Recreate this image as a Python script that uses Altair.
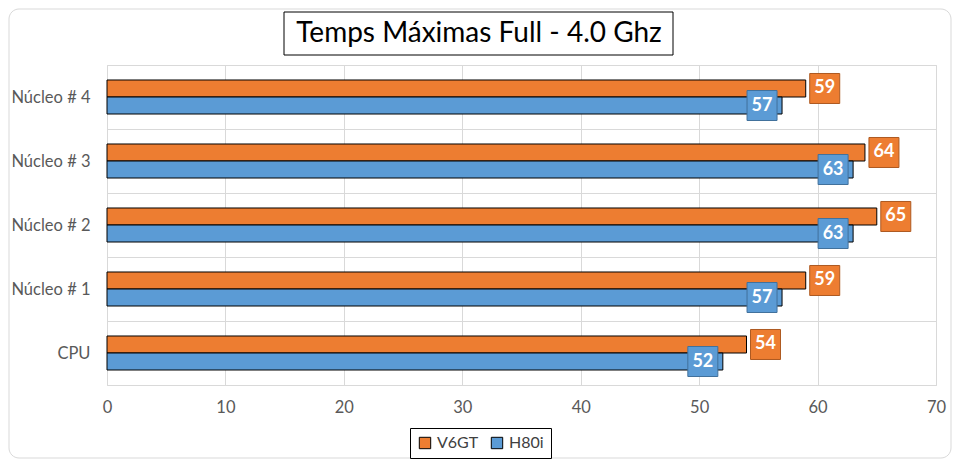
import altair as alt
import pandas as pd

categories = ["Núcleo # 4", "Núcleo # 3", "Núcleo # 2", "Núcleo # 1", "CPU"]
series = ["V6GT", "H80i"]
v6gt = [59, 64, 65, 59, 54]
h80i = [57, 63, 63, 57, 52]
title_text = "Temps Máximas Full - 4.0 Ghz"

rows = []
for c, a, b in zip(categories, v6gt, h80i):
    rows.append({"cat": c, "serie": "V6GT", "val": a})
    rows.append({"cat": c, "serie": "H80i", "val": b})
df = pd.DataFrame(rows)

FONT = "Lato"
fills = ["#ED7D31", "#5B9BD5"]
strokes = ["#AE5A21", "#41719C"]

y_enc = alt.Y("cat:N", sort=categories, title=None,
              scale=alt.Scale(paddingInner=0, paddingOuter=0),
              axis=alt.Axis(tickBand="extent", grid=True, ticks=False, domain=False,
                            labelFontSize=16.5, labelColor="#595959", labelFont=FONT,
                            labelPadding=17, gridColor="#D9D9D9"))
yoff_enc = alt.YOffset("serie:N", sort=series,
                       scale=alt.Scale(paddingInner=0, paddingOuter=0.882))
x_enc = alt.X("val:Q", title=None,
              scale=alt.Scale(domain=[0, 70], nice=False),
              axis=alt.Axis(values=[0, 10, 20, 30, 40, 50, 60, 70], grid=True, ticks=False,
                            domain=False, labelFontSize=16.5, labelColor="#595959",
                            labelFont=FONT, labelPadding=14, gridColor="#D9D9D9",
                            labelFlush=False))

base = alt.Chart(df)

bars = base.mark_bar(stroke="black", strokeWidth=1).encode(
    x=x_enc, y=y_enc, yOffset=yoff_enc,
    color=alt.Color("serie:N", sort=series,
                    scale=alt.Scale(domain=series, range=fills),
                    legend=alt.Legend(title=None, orient="none", legendX=303, legendY=363,
                                      direction="horizontal", strokeColor="black",
                                      fillColor="white", padding=7, symbolType="square",
                                      symbolSize=130, labelFontSize=16, labelFont=FONT,
                                      labelColor="#404040", columnPadding=10,
                                      symbolStrokeWidth=1)),
)

def label_layer(name, off, fill, stroke):
    sub = base.transform_filter(alt.datum.serie == name)
    box = sub.mark_point(shape="square", filled=True, size=900, xOffset=off,
                         fill=fill, stroke=stroke, strokeWidth=1, opacity=1).encode(
        x="val:Q", y=alt.Y("cat:N", sort=categories), yOffset=yoff_enc)
    txt = sub.mark_text(xOffset=off, color="white", fontWeight="bold", fontSize=18,
                        font=FONT, align="center", baseline="middle").encode(
        x="val:Q", y=alt.Y("cat:N", sort=categories), yOffset=yoff_enc,
        text="val:Q")
    return box, txt

ob, ot = label_layer("V6GT", 19, fills[0], strokes[0])
bb, bt = label_layer("H80i", -20, fills[1], strokes[1])

tdf = pd.DataFrame({"t": [title_text]})
tbox = alt.Chart(tdf).mark_rect(fill="white", stroke="black", strokeWidth=1).encode(
    x=alt.value(177), x2=alt.value(566), y=alt.value(-53), y2=alt.value(-10))
ttxt = alt.Chart(tdf).mark_text(fontSize=28, font=FONT, color="black",
                                align="center", baseline="middle").encode(
    x=alt.value(372), y=alt.value(-31), text="t:N")
border = alt.Chart(tdf).mark_rect(fill=None, stroke="#D9D9D9", strokeWidth=1,
                                  cornerRadius=10).encode(
    x=alt.value(-98), x2=alt.value(844), y=alt.value(-56), y2=alt.value(393))

chart = alt.layer(border, bars, ob, bb, ot, bt, tbox, ttxt).resolve_scale(
    color="independent"
).properties(
    width=829, height=320,
    autosize=alt.AutoSizeParams(type="none"),
    padding={"left": 99, "top": 57, "right": 16, "bottom": 74},
    background="white",
).configure_view(stroke="#D9D9D9")

chart.save("out.html", embed_options={"renderer": "svg", "actions": False})
